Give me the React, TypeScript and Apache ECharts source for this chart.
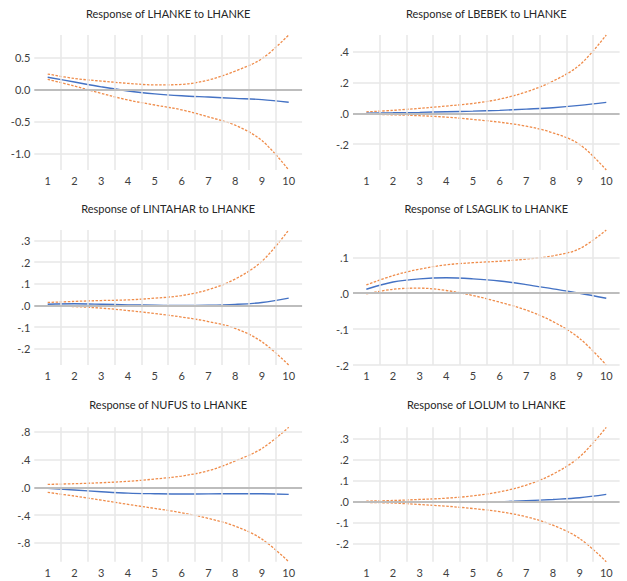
import React, { useEffect, useRef } from "react";
import * as echarts from "echarts";

// Horizon (periods)
const periods = [1, 2, 3, 4, 5, 6, 7, 8, 9, 10];

// Panel titles
const titles = [
  "Response of LHANKE to LHANKE",
  "Response of LBEBEK to LHANKE",
  "Response of LINTAHAR to LHANKE",
  "Response of LSAGLIK to LHANKE",
  "Response of NUFUS to LHANKE",
  "Response of LOLUM to LHANKE",
];

// LHANKE
const lhankeResp = [0.19, 0.115, 0.04, -0.025, -0.07, -0.1, -0.12, -0.14, -0.16, -0.2];
const lhankeUpper = [0.24, 0.17, 0.13, 0.094, 0.07, 0.078, 0.146, 0.286, 0.48, 0.85];
const lhankeLower = [0.156, 0.052, -0.062, -0.166, -0.244, -0.32, -0.43, -0.56, -0.8, -1.26];
const lhankeTicks = [-1.0, -0.5, 0.0, 0.5];
const lhankeLabels = ["-1.0", "-0.5", "0.0", "0.5"];

// LBEBEK
const lbebekResp = [0.002, 0.004, 0.007, 0.011, 0.015, 0.02, 0.028, 0.037, 0.052, 0.072];
const lbebekUpper = [0.01, 0.02, 0.033, 0.048, 0.065, 0.093, 0.14, 0.21, 0.315, 0.51];
const lbebekLower = [-0.005, -0.009, -0.015, -0.024, -0.039, -0.057, -0.083, -0.126, -0.202, -0.368];
const lbebekTicks = [-0.2, 0.0, 0.2, 0.4];
const lbebekLabels = ["-.2", ".0", ".2", ".4"];

// LINTAHAR
const lintaharResp = [0.006, 0.008, 0.006, 0.003, 0.0015, 0.0, 0.001, 0.005, 0.014, 0.034];
const lintaharUpper = [0.014, 0.019, 0.023, 0.026, 0.034, 0.046, 0.073, 0.122, 0.204, 0.348];
const lintaharLower = [-0.002, -0.005, -0.012, -0.023, -0.037, -0.053, -0.074, -0.105, -0.167, -0.274];
const lintaharTicks = [-0.2, -0.1, 0.0, 0.1, 0.2, 0.3];
const lintaharLabels = ["-.2", "-.1", ".0", ".1", ".2", ".3"];

// LSAGLIK
const lsaglikResp = [0.011, 0.031, 0.04, 0.043, 0.04, 0.034, 0.024, 0.012, 0.0, -0.014];
const lsaglikUpper = [0.023, 0.049, 0.067, 0.079, 0.085, 0.089, 0.095, 0.104, 0.124, 0.176];
const lsaglikLower = [-0.002, 0.011, 0.014, 0.0075, -0.0065, -0.025, -0.047, -0.079, -0.126, -0.2];
const lsaglikTicks = [-0.2, -0.1, 0.0, 0.1];
const lsaglikLabels = ["-.2", "-.1", ".0", ".1"];

// NUFUS
const nufusResp = [-0.014, -0.038, -0.062, -0.082, -0.091, -0.096, -0.093, -0.091, -0.091, -0.1];
const nufusUpper = [0.043, 0.053, 0.067, 0.087, 0.12, 0.163, 0.24, 0.38, 0.56, 0.865];
const nufusLower = [-0.072, -0.125, -0.183, -0.245, -0.303, -0.365, -0.447, -0.558, -0.745, -1.07];
const nufusTicks = [-0.8, -0.4, 0.0, 0.4, 0.8];
const nufusLabels = ["-.8", "-.4", ".0", ".4", ".8"];

// LOLUM
const lolumResp = [-0.0015, -0.003, -0.003, -0.003, -0.0015, 0.0, 0.005, 0.011, 0.019, 0.035];
const lolumUpper = [0.003, 0.006, 0.011, 0.017, 0.028, 0.047, 0.079, 0.131, 0.213, 0.353];
const lolumLower = [-0.003, -0.006, -0.013, -0.021, -0.032, -0.047, -0.071, -0.111, -0.174, -0.284];
const lolumTicks = [-0.2, -0.1, 0.0, 0.1, 0.2, 0.3];
const lolumLabels = ["-.2", "-.1", ".0", ".1", ".2", ".3"];

const panels = [
  { resp: lhankeResp, upper: lhankeUpper, lower: lhankeLower, ticks: lhankeTicks, labels: lhankeLabels },
  { resp: lbebekResp, upper: lbebekUpper, lower: lbebekLower, ticks: lbebekTicks, labels: lbebekLabels },
  { resp: lintaharResp, upper: lintaharUpper, lower: lintaharLower, ticks: lintaharTicks, labels: lintaharLabels },
  { resp: lsaglikResp, upper: lsaglikUpper, lower: lsaglikLower, ticks: lsaglikTicks, labels: lsaglikLabels },
  { resp: nufusResp, upper: nufusUpper, lower: nufusLower, ticks: nufusTicks, labels: nufusLabels },
  { resp: lolumResp, upper: lolumUpper, lower: lolumLower, ticks: lolumTicks, labels: lolumLabels },
];

// layout (pixels)
const W = 627;
const H = 581;
const colLeft = [34.3, 353];
const colWidth = [267.8, 266.6];
const rowTop = [35, 230, 427.3];
const rowHeight = [135, 135, 134.4];
const titleY = [13, 208.5, 404];

const FONT = "Lato, 'Liberation Sans', sans-serif";

function buildOption() {
  const grid: any[] = [];
  const xAxis: any[] = [];
  const yAxis: any[] = [];
  const series: any[] = [];
  const graphic: any[] = [];

  panels.forEach((p, i) => {
    const col = i % 2;
    const row = Math.floor(i / 2);
    const left = colLeft[col];
    const top = rowTop[row];
    const width = colWidth[col];
    const height = rowHeight[row];
    grid.push({ left, top, width, height, containLabel: false });

    xAxis.push({
      type: "value",
      gridIndex: i,
      min: 0.5,
      max: 10.5,
      axisLine: { show: false },
      axisTick: { show: false },
      splitLine: { show: false },
      axisLabel: {
        customValues: periods,
        formatter: (v: number) => String(Math.round(v)),
        color: "#404040",
        fontSize: 11,
        fontFamily: FONT,
        margin: 5,
      },
    });

    const yMin = Math.min(...p.lower);
    const yMax = Math.max(...p.upper);
    yAxis.push({
      type: "value",
      gridIndex: i,
      min: yMin,
      max: yMax,
      axisLine: { show: false },
      axisTick: { show: false },
      splitLine: { show: false },
      axisLabel: {
        customValues: p.ticks,
        formatter: (v: number) => {
          const k = p.ticks.findIndex((t) => Math.abs(t - v) < 1e-9);
          return k >= 0 ? p.labels[k] : "";
        },
        color: "#404040",
        fontSize: 11,
        fontFamily: FONT,
        margin: 4,
      },
    });

    const gridColor = "#e7e7e7";
    const markData: any[] = [];
    for (let k = 0; k < periods.length - 1; k++) {
      markData.push({ xAxis: (periods[k] + periods[k + 1]) / 2, lineStyle: { color: gridColor, width: 1.5, type: "solid" } });
    }
    p.ticks.forEach((t) => {
      if (Math.abs(t) > 1e-9) markData.push({ yAxis: t, lineStyle: { color: gridColor, width: 1.5, type: "solid" } });
    });
    markData.push({ yAxis: 0, lineStyle: { color: "#bdbdbd", width: 2, type: "solid" } });

    series.push({
      type: "line",
      xAxisIndex: i,
      yAxisIndex: i,
      data: periods.map((x, k) => [x, p.resp[k]]),
      showSymbol: false,
      lineStyle: { opacity: 0 },
      silent: true,
      z: 1,
      markLine: {
        silent: true,
        symbol: ["none", "none"],
        label: { show: false },
        animation: false,
        data: markData,
      },
    });

    const mk = (vals: number[], color: string, dashed: boolean) => ({
      type: "line",
      xAxisIndex: i,
      yAxisIndex: i,
      data: periods.map((x, k) => [x, vals[k]]),
      showSymbol: false,
      smooth: 0.35,
      silent: true,
      z: 3,
      lineStyle: dashed ? { color, width: 1.3, type: [2.5, 1.5] } : { color, width: 1.4 },
    });
    series.push(mk(p.upper, "#ef8c4a", true));
    series.push(mk(p.lower, "#ef8c4a", true));
    series.push(mk(p.resp, "#4472c4", false));

    graphic.push({
      type: "text",
      x: left + width / 2,
      y: titleY[row],
      style: {
        text: titles[i],
        fill: "#262626",
        font: `11px ${FONT}`,
        textAlign: "center",
        textVerticalAlign: "middle",
        align: "center",
        verticalAlign: "middle",
      },
    });
  });

  return {
    animation: false,
    backgroundColor: "#ffffff",
    grid,
    xAxis,
    yAxis,
    series,
    graphic,
  };
}

export default function App() {
  const ref = useRef<HTMLDivElement>(null);
  useEffect(() => {
    if (!ref.current) return;
    const chart = echarts.init(ref.current, undefined, { renderer: "svg" });
    chart.setOption(buildOption() as any);
    return () => chart.dispose();
  }, []);
  return (
    <div
      ref={ref}
      style={{ position: "absolute", left: 0, top: 0, width: W, height: H, background: "#fff" }}
    />
  );
}
